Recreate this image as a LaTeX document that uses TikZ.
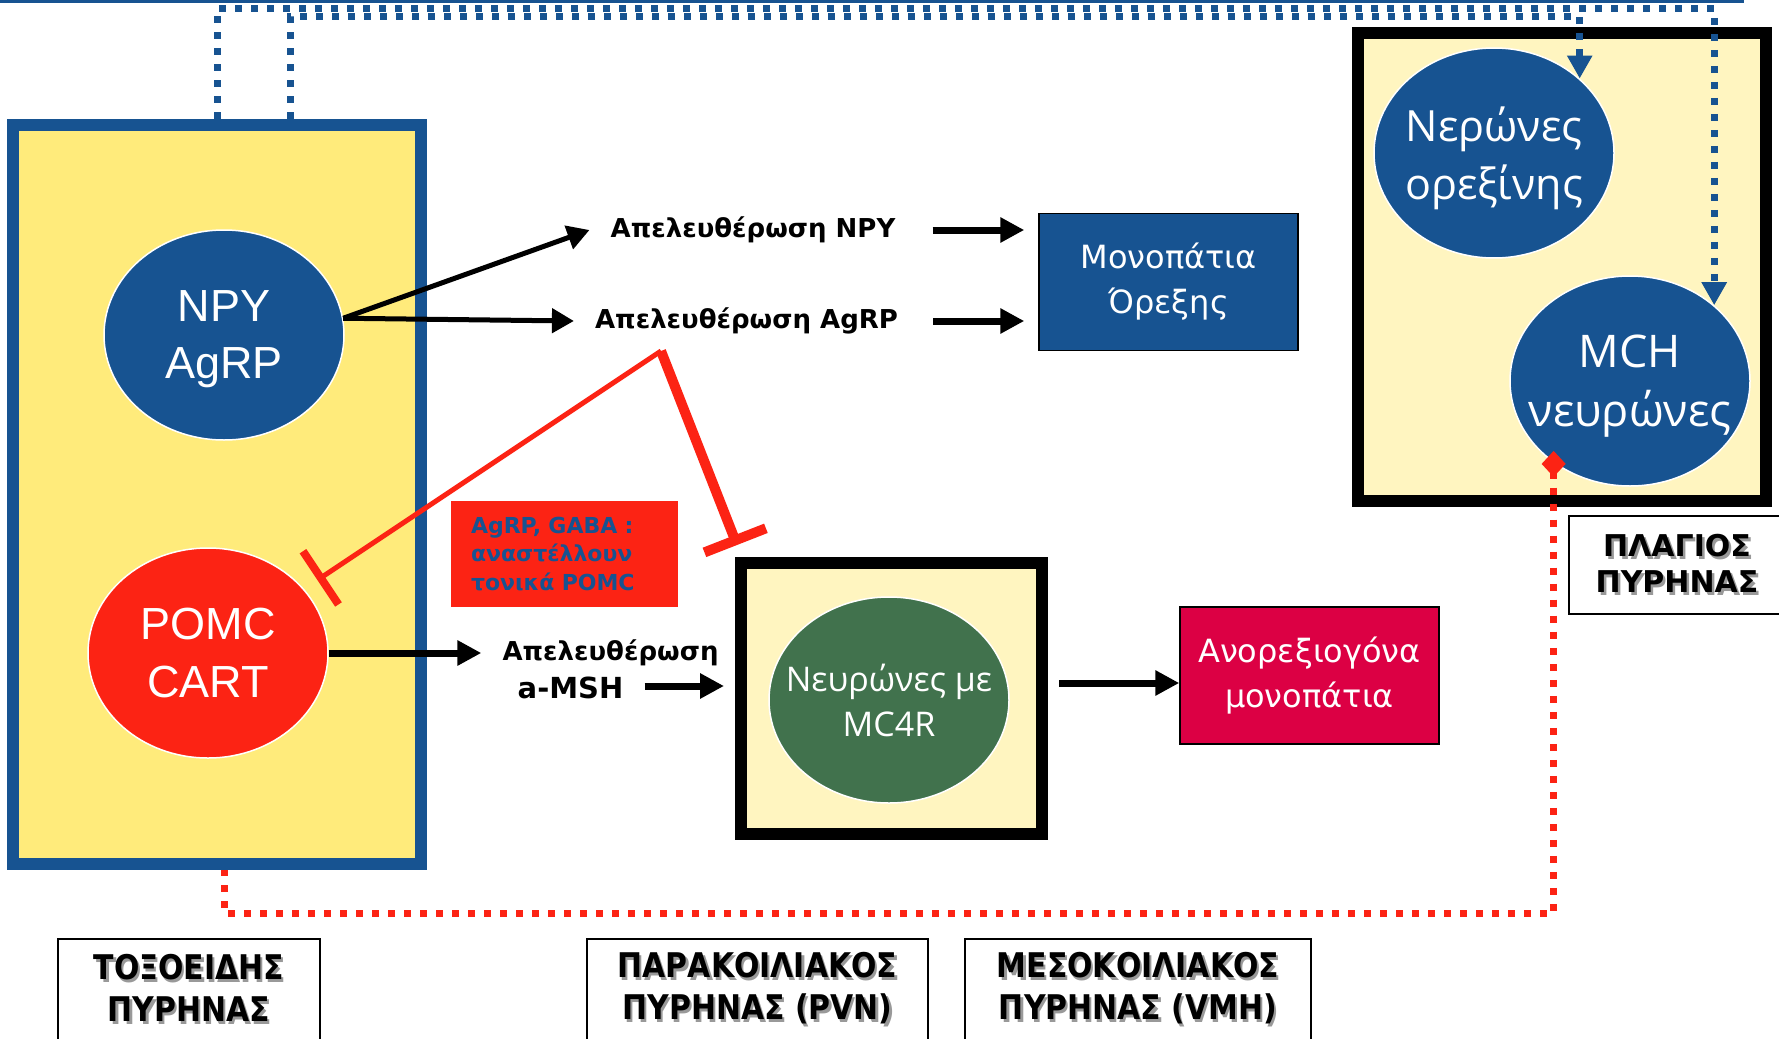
\documentclass[tikz,border=0pt]{standalone}
\usepackage{fontspec}
\usepackage{graphicx}
\usetikzlibrary{arrows.meta,shapes.geometric,calc}
\newfontfamily\arialf{Liberation Sans}
\newfontfamily\opensf{Open Sans}
\newfontfamily\dejaf{DejaVu Sans}
\definecolor{hblue}{RGB}{23,83,145}
\definecolor{hred}{RGB}{252,35,20}
\definecolor{arcyellow}{RGB}{255,235,123}
\definecolor{paleyellow}{RGB}{255,245,192}
\definecolor{mcgreen}{RGB}{65,114,77}
\definecolor{crimson}{RGB}{220,0,68}
% bold text with a soft grey drop shadow
\newcommand\shadowed[1]{\leavevmode\rlap{\kern2.5pt\raisebox{-2.5pt}{\textcolor{black!40}{#1}}}#1}
\newcommand\narrowed[1]{\scalebox{0.88}[1]{#1}}
\begin{document}
\begin{tikzpicture}[x=1pt,y=-1pt,
  nucleus/.style={draw=hblue,line width=12pt,fill=arcyellow,inner sep=0pt},
  region/.style={draw=black,line width=12pt,fill=paleyellow,inner sep=0pt},
  cell/.style={ellipse,draw=white,line width=1.5pt,minimum width=240pt,minimum height=210pt,
    inner xsep=-30pt,inner ysep=0pt,text depth=0pt,text=white,align=center},
  pathbox/.style={draw=black,line width=1.5pt,text=white,align=center,minimum width=259pt,minimum height=137pt,inner sep=0pt,
    font=\dejaf\fontsize{32}{45}\selectfont},
  release/.style={font=\dejaf\bfseries\fontsize{26}{34}\selectfont,inner xsep=21pt,inner ysep=2pt,align=center},
  tag/.style={draw=black,line width=1.5pt,align=center,inner sep=0pt,font=\dejaf\bfseries\fontsize{34}{42}\selectfont},
  fatarrow/.style={line width=7pt,-{Triangle[length=24pt,width=24pt]}},
  slimarrow/.style={line width=5pt,-{Triangle[length=22pt,width=24pt]}},
  bluedot/.style={draw=hblue,line width=7pt,dash pattern=on 7pt off 9pt,-{Triangle[length=23pt,width=24pt]}},
  reddot/.style={draw=hred,line width=7pt,dash pattern=on 7pt off 9pt},
  inhibit/.style={draw=hred}
]
\fill[white] (0,0) rectangle (1779,1038);
\useasboundingbox (0,0) rectangle (1779,1038);

% frame rule along the top edge
\draw[hblue,line width=3pt] (0,1.5) -- (1744,1.5);

% nuclei
\node[nucleus,minimum width=408pt,minimum height=739pt] (arc) at (217,494.5) {};
\node[region,minimum width=408pt,minimum height=468pt] (lat) at (1562,267) {};
\node[region,minimum width=301pt,minimum height=271pt] (pvn) at (891.5,698.5) {};

% neuron populations
\node[cell,fill=hblue,font=\arialf\fontsize{45}{57}\selectfont] (npy) at (224,335) {NPY\\AgRP};
\node[cell,fill=hred,font=\arialf\fontsize{45}{58}\selectfont] (pomc) at (208,653) {POMC\\CART};
\node[cell,fill=hblue,font=\opensf\fontsize{43}{58}\selectfont] (orx) at (1494,153) {Νερώνες\\ορεξίνης};
\node[cell,fill=hblue,font=\opensf\fontsize{45}{59}\selectfont] (mch) at (1630,381) {MCH\\νευρώνες};
\node[cell,fill=mcgreen,minimum height=206pt,font=\opensf\fontsize{34}{45}\selectfont] (mc4r) at (889,700) {Νευρώνες με\\MC4R};

% downstream pathways
\node[pathbox,fill=hblue] (appetite) at (1168.5,282) {Μονοπάτια\\Όρεξης};
\node[pathbox,fill=crimson] (anx) at (1309.5,675.5) {Ανορεξιογόνα\\μονοπάτια};

% released peptides
\node[release] (npyrel) at (753,230) {Απελευθέρωση NPY};
\node[release] (agrprel) at (746.5,321) {Απελευθέρωση AgRP};
\node[release] (mshrel) at (610.5,653) {Απελευθέρωση};
\node[release,font=\dejaf\bfseries\fontsize{29}{34}\selectfont] (msh) at (570.5,688) {a-MSH};

% note on tonic inhibition
\node[fill=hred,minimum width=227pt,minimum height=106pt,inner xsep=20pt,inner ysep=0pt,text width=187pt,align=left,
  text=hblue,font=\dejaf\bfseries\fontsize{22}{28.5}\selectfont] (note) at (564.5,554) {AgRP, GABA :\\αναστέλλουν\\τονικά POMC};

% nucleus names
\node[tag,minimum width=262pt,minimum height=101pt] (tagarc) at (189,989.5) {\narrowed{\shadowed{ΤΟΞΟΕΙΔΗΣ}}\\\narrowed{\shadowed{ΠΥΡΗΝΑΣ}}};
\node[tag,minimum width=341pt,minimum height=101pt] (tagpvn) at (757.5,989.5) {\narrowed{\shadowed{ΠΑΡΑΚΟΙΛΙΑΚΟΣ}}\\\narrowed{\shadowed{ΠΥΡΗΝΑΣ (PVN)}}};
\node[tag,minimum width=346pt,minimum height=101pt] (tagvmh) at (1138,989.5) {\narrowed{\shadowed{ΜΕΣΟΚΟΙΛΙΑΚΟΣ}}\\\narrowed{\shadowed{ΠΥΡΗΝΑΣ (VMH)}}};
\node[tag,minimum width=216pt,minimum height=98pt,font=\dejaf\bfseries\fontsize{30}{36}\selectfont] (taglat) at (1677,565) {\shadowed{ΠΛΑΓΙΟΣ}\\\shadowed{ΠΥΡΗΝΑΣ}};

% helper points for the long routes
\coordinate (rowA) at (0,9);
\coordinate (rowB) at (0,17);
\coordinate (redrow) at (0,913);
\coordinate (bstart) at ([xshift=73pt]arc.north);
\coordinate (redend) at ([xshift=7pt]arc.south);
\coordinate (inh) at (661,351);
\coordinate (inhpvn) at (737,545);

% projections from the arcuate nucleus to the lateral hypothalamus
\draw[bluedot] (arc.north) -- (arc.north |- rowA) -| (mch.42);
\draw[bluedot] (bstart) -- (bstart |- rowB) -| (orx.41);

% feedback from MCH neurons back to the arcuate nucleus
\draw[reddot,{Diamond[length=26pt,width=24pt]}-,shorten <=-12pt] (mch.227) -- (mch.227 |- redrow) -| (redend);

% peptide release
\draw[slimarrow] (npy.8) -- (npyrel.west);
\draw[slimarrow] (npy.8) -- (agrprel.west);
\draw[fatarrow,shorten <=16pt,shorten >=14pt] (npyrel.east) -- (npyrel.east -| appetite.west);
\draw[fatarrow,shorten <=14pt,shorten >=14pt] (agrprel.east) -- (agrprel.east -| appetite.west);
\draw[fatarrow] (pomc.east) -- (mshrel.west);
\draw[fatarrow,shorten >=11pt] ([yshift=2pt]msh.east) -- ([yshift=2pt]msh.east -| pvn.west);
\coordinate (pvnout) at ([yshift=15.5pt]pvn.east);
\draw[fatarrow,shorten <=11pt] (pvnout) -- (pvnout -| anx.west);

% AgRP inhibition of POMC and of MC4R neurons
\draw[inhibit,line width=5pt,-{Bar[width=64pt,line width=8pt]},shorten >=16pt] (inh) -- (pomc);
\draw[inhibit,line width=10pt,-{Bar[width=66pt,line width=10pt]}] (inh) -- (inhpvn);
\end{tikzpicture}
\end{document}
